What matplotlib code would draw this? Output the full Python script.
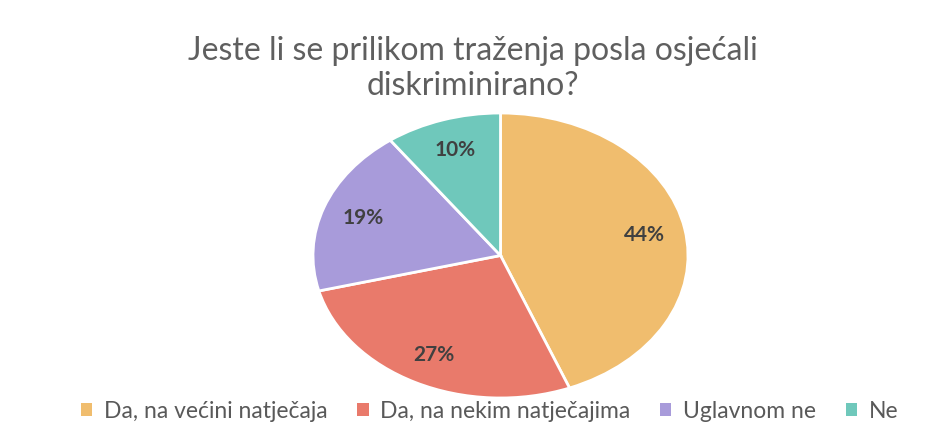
import matplotlib
matplotlib.use('Agg')
import matplotlib.pyplot as plt
from matplotlib.patches import Patch

labels = ['Da, na većini natječaja', 'Da, na nekim natječajima', 'Uglavnom ne', 'Ne']
values = [44, 27, 19, 10]
colors = ['#F0BD6E', '#E97A6B', '#A89BDA', '#6FC8BB']

plt.rcParams['font.family'] = ['Lato', 'DejaVu Sans']

fig = plt.figure(figsize=(9.45, 4.24), dpi=100)
# ellipse-shaped pie: axes box sized to the squashed pie
ax = fig.add_axes([313/945, (424-398)/424, 375/945, 285/424])
wedges, texts, autotexts = ax.pie(values, colors=colors, startangle=90, counterclock=False,
                                  autopct='%d%%', pctdistance=0.78,
                                  wedgeprops=dict(edgecolor='white', linewidth=2),
                                  textprops=dict(color='#404040', fontsize=15, fontweight='bold'))
ax.set_aspect('auto')
ax.set_xlim(-1.0, 1.0)
ax.set_ylim(-1.0, 1.0)

fig.text(0.5, 0.838, 'Jeste li se prilikom traženja posla osjećali\ndiskriminirano?',
         ha='center', va='center', fontsize=23, color='#5f5f5f', linespacing=1.22)

handles = [Patch(facecolor=c, edgecolor='none') for c in colors]
fig.legend(handles, labels, loc='center', bbox_to_anchor=(0.518, 0.03), ncol=4, frameon=False,
           fontsize=16.5, handlelength=0.5, handleheight=0.5, handletextpad=0.5, columnspacing=1.3,
           labelcolor='#595959')

plt.savefig('out.png', dpi=100)
